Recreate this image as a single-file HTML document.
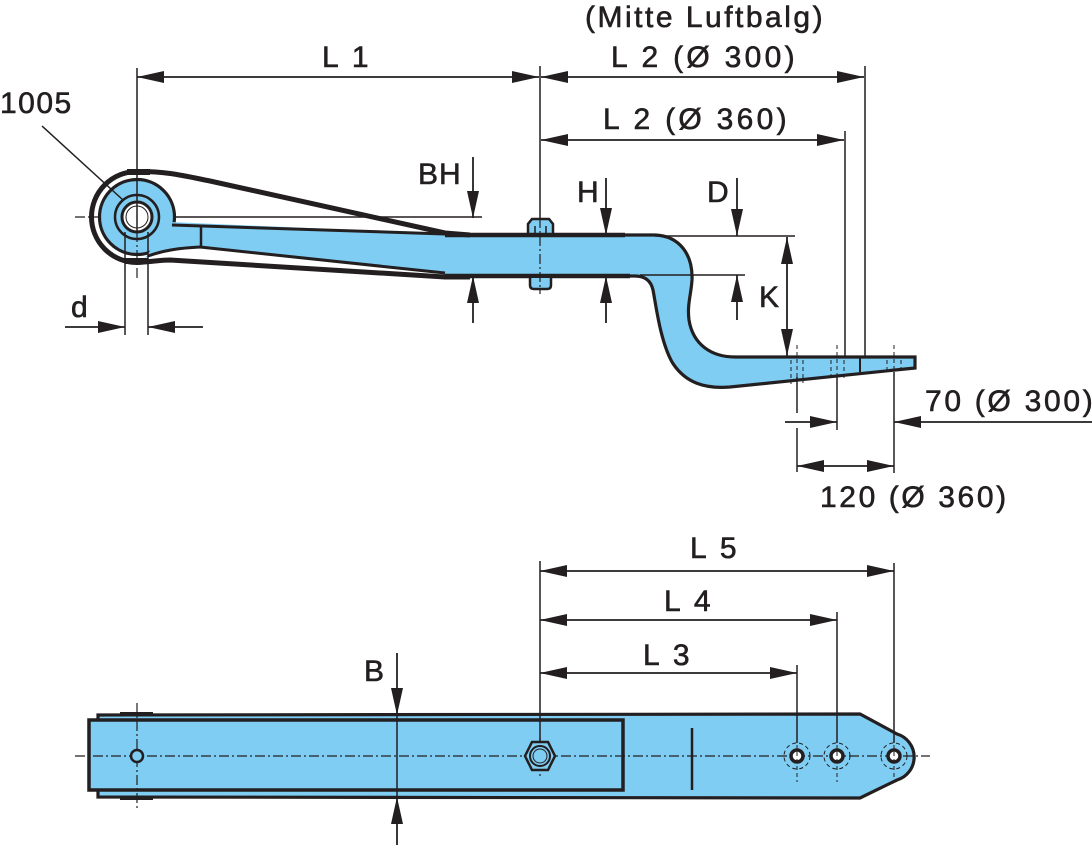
<!DOCTYPE html>
<html>
<head>
<meta charset="utf-8">
<style>
html,body{margin:0;padding:0;background:#fff;}
svg{display:block;}
text{font-family:"Liberation Sans",sans-serif;font-size:30px;fill:#231f20;stroke:#231f20;stroke-width:0.6px;letter-spacing:3px;}
</style>
</head>
<body>
<svg width="1092" height="845" viewBox="0 0 1092 845" xmlns="http://www.w3.org/2000/svg">
<g stroke="#231f20" fill="none">

<!-- ===== TOP VIEW ===== -->
<circle cx="137" cy="217" r="37.5" fill="#7fcdf2" stroke-width="3.2"/>
<path d="M170,222 L445,234 L655,235 C680,236 693,255 692,280 C691,295 687,305 689,320 C693,345 712,357 735,357 L915,357 L915,368 L730,387 C705,389 685,383 672,362 C660,340 656,305 653,290 C651,281 645,276 635,276 L445,274 L200,247 C180,248 160,252 145,258 Z" fill="#7fcdf2" stroke="none"/>
<circle cx="137" cy="217" r="22" fill="#7fcdf2" stroke-width="2.5"/>
<circle cx="137" cy="217" r="15" fill="#fff" stroke-width="3"/>
<circle cx="137" cy="217" r="11" stroke-width="1"/>
<path d="M137,171.5 A45.5,45.5 0 0 0 137,262.5" stroke-width="5"/>
<rect x="127" y="169" width="23" height="6" fill="#231f20" stroke="none"/>
<rect x="125" y="258" width="23" height="6" fill="#231f20" stroke="none"/>
<path d="M137,171.5 C165,171 185,176 210,181 L445,233 L470,235" stroke-width="5"/>
<path d="M137,262.5 C150,262 160,260 170,260 L445,277 L470,277" stroke-width="5"/>
<path d="M172,225 L445,234" stroke-width="3"/>
<path d="M148,256 C165,250 180,248 200,247 L445,273" stroke-width="3"/>
<line x1="201" y1="227" x2="201" y2="247" stroke-width="2.5"/>
<line x1="445" y1="235" x2="625" y2="235" stroke-width="4.5"/>
<line x1="445" y1="276" x2="630" y2="276" stroke-width="4.5"/>
<path d="M620,235 L655,235 C680,236 693,255 692,280 C691,295 687,305 689,320 C693,345 712,357 735,357 L915,357 L915,368 L730,387 C705,389 685,383 672,362 C660,340 656,305 653,290 C651,281 645,276 635,276 L620,276" stroke-width="3.2"/>
<line x1="860" y1="357" x2="860" y2="372" stroke-width="2"/>
<g stroke-width="1" stroke-dasharray="4 3">
<line x1="797" y1="345" x2="797" y2="385"/><line x1="791" y1="360" x2="791" y2="384"/><line x1="803" y1="360" x2="803" y2="383"/>
<line x1="837" y1="345" x2="837" y2="382"/><line x1="831" y1="360" x2="831" y2="381"/><line x1="844" y1="360" x2="844" y2="380"/>
<line x1="894" y1="345" x2="894" y2="375"/><line x1="887" y1="360" x2="887" y2="374"/><line x1="901" y1="360" x2="901" y2="373"/>
</g>
<path d="M528,234 L528,224 L532,219 L549,219 L553,224 L553,234 Z" fill="#7fcdf2" stroke-width="2.5"/>
<line x1="535" y1="226" x2="535" y2="234" stroke-width="1.5"/><line x1="546" y1="226" x2="546" y2="234" stroke-width="1.5"/>
<path d="M530,278 L530,285 Q530,289 534,289 L547,289 Q551,289 551,285 L551,278" fill="#7fcdf2" stroke-width="2.5"/>

<g stroke-width="1.5">
<line x1="137" y1="68" x2="137" y2="232"/>
<line x1="540" y1="66" x2="540" y2="218"/>
<line x1="865" y1="66" x2="865" y2="357"/>
<line x1="845" y1="131" x2="845" y2="357"/>
<line x1="175" y1="217" x2="482" y2="217"/>
<line x1="125" y1="232" x2="125" y2="335"/>
<line x1="148" y1="232" x2="148" y2="335"/>
<line x1="655" y1="236" x2="795" y2="236"/>
<line x1="640" y1="275" x2="745" y2="275"/>
<line x1="797" y1="377" x2="797" y2="413"/>
<line x1="797" y1="428" x2="797" y2="472"/>
<line x1="837" y1="377" x2="837" y2="430"/>
<line x1="894" y1="372" x2="894" y2="473"/>
<line x1="42" y1="126" x2="123" y2="200"/>
</g>
<g stroke-width="1.2" stroke-dasharray="10 3 2 3">
<line x1="75" y1="217" x2="100" y2="217"/>
<line x1="137" y1="232" x2="137" y2="278"/>
<line x1="540" y1="218" x2="540" y2="294"/>
</g>

<g stroke-width="1.8">
<line x1="137" y1="77" x2="539" y2="77"/>
<line x1="541" y1="77" x2="864" y2="77"/>
<line x1="541" y1="140" x2="844" y2="140"/>
<line x1="473" y1="157" x2="473" y2="218"/><line x1="473" y1="276" x2="473" y2="323"/>
<line x1="606" y1="178" x2="606" y2="235"/><line x1="606" y1="276" x2="606" y2="323"/>
<line x1="737" y1="178" x2="737" y2="236"/><line x1="737" y1="275" x2="737" y2="320"/>
<line x1="787" y1="237" x2="787" y2="356"/>
<line x1="65" y1="327" x2="125" y2="327"/><line x1="148" y1="327" x2="203" y2="327"/>
<line x1="785" y1="422" x2="837" y2="422"/><line x1="894" y1="422" x2="1092" y2="422"/>
<line x1="797" y1="466" x2="894" y2="466"/>
</g>
<g fill="#231f20" stroke="none">
<polygon points="137,77 164,71 164,83"/><polygon points="539,77 512,71 512,83"/>
<polygon points="541,77 568,71 568,83"/><polygon points="864,77 837,71 837,83"/>
<polygon points="541,140 568,134 568,146"/><polygon points="844,140 817,134 817,146"/>
<polygon points="473,218 467,191 479,191"/><polygon points="473,276 467,303 479,303"/>
<polygon points="606,235 600,208 612,208"/><polygon points="606,276 600,303 612,303"/>
<polygon points="737,236 731,209 743,209"/><polygon points="737,275 731,302 743,302"/>
<polygon points="787,237 781,264 793,264"/><polygon points="787,356 781,329 793,329"/>
<polygon points="125,327 98,321 98,333"/><polygon points="148,327 175,321 175,333"/>
<polygon points="837,422 810,416 810,428"/><polygon points="894,422 921,416 921,428"/>
<polygon points="797,466 824,460 824,472"/><polygon points="894,466 867,460 867,472"/>
</g>

<!-- ===== BOTTOM VIEW ===== -->
<path d="M98,715 L860,714 L897,734 A24,24 0 0 1 897,780 L860,798 L98,797 Z" fill="#7fcdf2" stroke-width="3.2"/>
<rect x="89" y="720" width="534" height="70" fill="#7fcdf2" stroke-width="3.5"/>
<rect x="120" y="712" width="33" height="4" fill="#231f20" stroke="none"/>
<rect x="120" y="796" width="33" height="4" fill="#231f20" stroke="none"/>
<line x1="692" y1="728" x2="692" y2="790" stroke-width="2.5"/>
<g stroke-width="1.2" stroke-dasharray="10 3 2 3">
<line x1="75" y1="756" x2="930" y2="756"/>
<line x1="137" y1="703" x2="137" y2="810"/>
<line x1="540" y1="738" x2="540" y2="776"/>
</g>
<circle cx="137" cy="756" r="6" fill="#7fcdf2" stroke-width="2.5"/>
<polygon points="525,756 532,742 548,742 555,756 548,770 532,770" fill="#7fcdf2" stroke-width="2.5"/>
<circle cx="540" cy="756" r="10" stroke-width="2"/>
<circle cx="540" cy="756" r="7" stroke-width="1"/>
<g>
<circle cx="797" cy="756" r="13" stroke-width="1" stroke-dasharray="4 3"/>
<circle cx="837" cy="756" r="13" stroke-width="1" stroke-dasharray="4 3"/>
<circle cx="894" cy="756" r="13" stroke-width="1" stroke-dasharray="4 3"/>
<circle cx="797" cy="756" r="6" fill="#fff" stroke-width="3.5"/>
<circle cx="837" cy="756" r="6" fill="#fff" stroke-width="3.5"/>
<circle cx="894" cy="756" r="6" fill="#fff" stroke-width="3.5"/>
<g stroke-width="1" stroke-dasharray="4 3">
<line x1="797" y1="745" x2="797" y2="782"/>
<line x1="837" y1="745" x2="837" y2="782"/>
<line x1="894" y1="745" x2="894" y2="782"/>
</g>
</g>
<g stroke-width="1.5">
<line x1="540" y1="561" x2="540" y2="742"/>
<line x1="894" y1="563" x2="894" y2="743"/>
<line x1="837" y1="612" x2="837" y2="743"/>
<line x1="797" y1="665" x2="797" y2="743"/>
<line x1="397" y1="715" x2="397" y2="797"/>
</g>
<g stroke-width="1.8">
<line x1="540" y1="571" x2="894" y2="571"/>
<line x1="540" y1="620" x2="837" y2="620"/>
<line x1="540" y1="673" x2="797" y2="673"/>
<line x1="397" y1="653" x2="397" y2="715"/>
<line x1="397" y1="797" x2="397" y2="845"/>
</g>
<g fill="#231f20" stroke="none">
<polygon points="540,571 567,565 567,577"/><polygon points="894,571 867,565 867,577"/>
<polygon points="540,620 567,614 567,626"/><polygon points="837,620 810,614 810,626"/>
<polygon points="540,673 567,667 567,679"/><polygon points="797,673 770,667 770,679"/>
<polygon points="397,715 391,688 403,688"/><polygon points="397,797 391,824 403,824"/>
</g>
</g>

<!-- ===== TEXT ===== -->
<text x="585" y="27" style="letter-spacing:2.5px">(Mitte Luftbalg)</text>
<text x="611" y="67" style="letter-spacing:3.3px">L 2 (Ø 300)</text>
<text x="603" y="129" style="letter-spacing:3.3px">L 2 (Ø 360)</text>
<text x="322" y="67">L 1</text>
<text x="0" y="113" style="letter-spacing:1.5px">1005</text>
<text x="418" y="184" style="letter-spacing:1px">BH</text>
<text x="577" y="202">H</text>
<text x="707" y="202">D</text>
<text x="759" y="307">K</text>
<text x="71" y="317">d</text>
<text x="925" y="411" style="letter-spacing:2.7px">70 (Ø 300)</text>
<text x="820" y="507" style="letter-spacing:2.6px">120 (Ø 360)</text>
<text x="690" y="558">L 5</text>
<text x="664" y="611">L 4</text>
<text x="643" y="665">L 3</text>
<text x="364" y="681">B</text>
</svg>
</body>
</html>
